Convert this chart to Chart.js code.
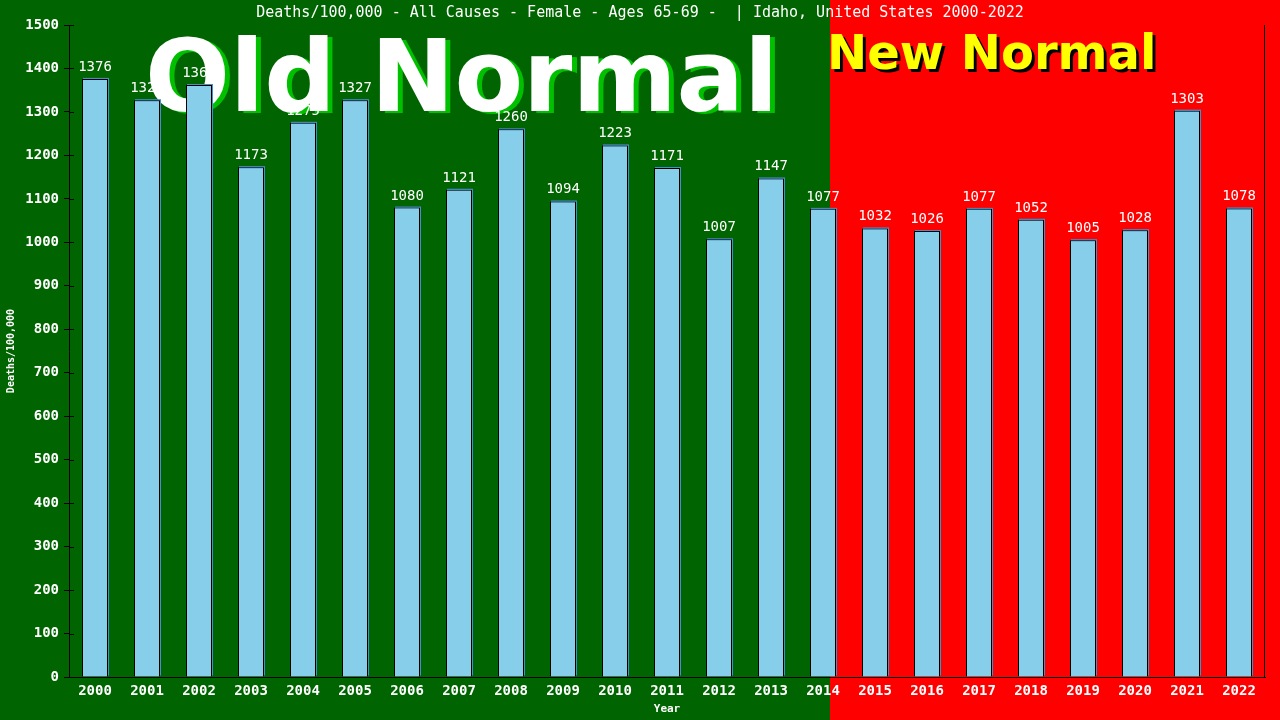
<!DOCTYPE html>
<html>
<head>
<meta charset="utf-8">
<script src="https://cdn.jsdelivr.net/npm/chart.js@4.4.0/dist/chart.umd.min.js"></script>
<style>
html,body{margin:0;padding:0;background:#006400;}
#wrap{width:1280px;height:720px;}
</style>
</head>
<body>
<div id="wrap"><canvas id="c" width="1280" height="720"></canvas></div>
<script>
const years = ['2000','2001','2002','2003','2004','2005','2006','2007','2008','2009','2010','2011','2012','2013','2014','2015','2016','2017','2018','2019','2020','2021','2022'];
const deaths = [1376,1327,1362,1173,1275,1327,1080,1121,1260,1094,1223,1171,1007,1147,1077,1032,1026,1077,1052,1005,1028,1303,1078];
const yTicks = [0,100,200,300,400,500,600,700,800,900,1000,1100,1200,1300,1400,1500];
const titleText = 'Deaths/100,000 - All Causes - Female - Ages 65-69 -  | Idaho, United States 2000-2022';
const mono = '"DejaVu Sans Mono", monospace';

const bgPlugin = {
  id: 'bg',
  beforeDraw(chart) {
    const ctx = chart.ctx;
    ctx.save();
    ctx.fillStyle = '#006400';
    ctx.fillRect(0, 0, 1280, 720);
    ctx.fillStyle = '#ff0000';
    ctx.fillRect(830, 0, 450, 720);
    ctx.fillStyle = '#ffffff';
    ctx.font = '15px ' + mono;
    ctx.textAlign = 'center';
    ctx.textBaseline = 'middle';
    ctx.fillText(titleText, 640, 13);
    ctx.restore();
  },
  beforeDatasetsDraw(chart) {
    const ctx = chart.ctx;
    ctx.save();
    ctx.textAlign = 'left';
    ctx.textBaseline = 'alphabetic';
    ctx.font = 'bold 100px "DejaVu Sans", sans-serif';
    ctx.fillStyle = '#00c000';
    ctx.fillText('Old Normal', 150, 113);
    ctx.fillStyle = '#ffffff';
    ctx.fillText('Old Normal', 145, 111);
    ctx.font = 'bold 48px "DejaVu Sans", sans-serif';
    ctx.fillStyle = '#000000';
    ctx.fillText('New Normal', 830, 72);
    ctx.fillStyle = '#ffff00';
    ctx.fillText('New Normal', 827, 69);
    ctx.restore();
  },
  beforeDatasetDraw(chart) {
    const ctx = chart.ctx;
    const meta = chart.getDatasetMeta(0);
    ctx.save();
    ctx.fillStyle = '#4a8ec4';
    meta.data.forEach(b => {
      const w = b.width;
      ctx.fillRect(b.x - w / 2 + 1, b.y - 1, w, b.base - b.y);
    });
    ctx.restore();
  },
  afterDatasetsDraw(chart) {
    const ctx = chart.ctx;
    const meta = chart.getDatasetMeta(0);
    const ys = chart.scales.y;
    const area = chart.chartArea;
    ctx.save();
    ctx.fillStyle = '#ffffff';
    ctx.font = '14px ' + mono;
    ctx.textAlign = 'center';
    ctx.textBaseline = 'alphabetic';
    meta.data.forEach((b, i) => {
      ctx.fillText(String(deaths[i]), b.x, b.y - 8);
    });
    ctx.strokeStyle = '#000000';
    ctx.lineWidth = 1;
    ctx.beginPath();
    yTicks.forEach(v => {
      const py = Math.round(ys.getPixelForValue(v)) + 0.5;
      ctx.moveTo(area.left, py);
      ctx.lineTo(area.left + 5, py);
    });
    ctx.moveTo(Math.round(area.right) - 0.5, area.top);
    ctx.lineTo(Math.round(area.right) - 0.5, area.bottom);
    ctx.stroke();
    ctx.restore();
  }
};

new Chart(document.getElementById('c'), {
  type: 'bar',
  plugins: [bgPlugin],
  data: {
    labels: years,
    datasets: [{
      data: deaths,
      backgroundColor: '#87ceeb',
      borderColor: '#000000',
      borderWidth: 1,
      borderSkipped: 'bottom',
      barPercentage: 0.5,
      categoryPercentage: 1.0
    }]
  },
  options: {
    responsive: false,
    animation: false,
    devicePixelRatio: 1,
    layout: { padding: { top: 25, right: 15, left: 0, bottom: 0 } },
    plugins: {
      legend: { display: false },
      tooltip: { enabled: false },
      title: { display: false }
    },
    scales: {
      x: {
        afterFit(s) { s.height = 43; },
        grid: { display: false, drawTicks: false },
        border: { display: true, color: '#000000', width: 1 },
        ticks: { color: '#ffffff', font: { family: mono, size: 14, weight: 'bold' }, padding: 6, maxRotation: 0, autoSkip: false },
        title: { display: true, text: 'Year', color: '#ffffff', font: { family: mono, size: 11, weight: 'bold' }, padding: { top: 0, bottom: 4 } }
      },
      y: {
        min: 0,
        max: 1500,
        afterFit(s) { s.width = 69; },
        afterBuildTicks(s) { s.ticks = yTicks.map(v => ({ value: v })); },
        grid: { drawOnChartArea: false, drawTicks: true, tickLength: 5, color: '#000000' },
        border: { display: true, color: '#000000', width: 1 },
        ticks: { color: '#ffffff', font: { family: mono, size: 14, weight: 'bold' }, padding: 5, callback: v => String(v) },
        title: { display: true, text: 'Deaths/100,000', color: '#ffffff', font: { family: mono, size: 10, weight: 'bold' }, padding: { top: 5, bottom: 0 } }
      }
    }
  }
});
</script>
</body>
</html>
